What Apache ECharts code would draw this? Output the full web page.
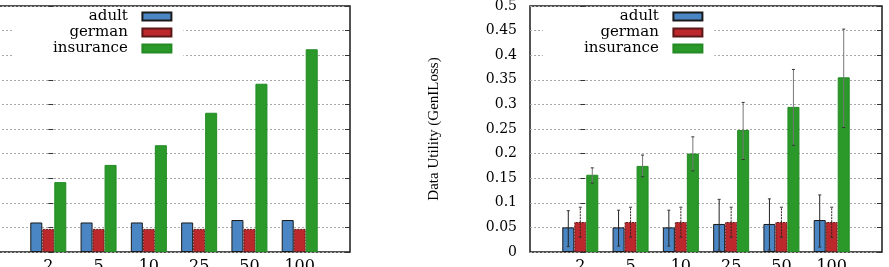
<!DOCTYPE html>
<html>
<head>
<meta charset="utf-8">
<script src="https://cdn.jsdelivr.net/npm/echarts@6/dist/echarts.min.js"></script>
<style>html,body{margin:0;padding:0;background:#fff}</style>
</head>
<body>
<div id="main" style="width:889px;height:267px"></div>
<script>
var ks = ['2', '5', '10', '25', '50', '100'];
var names = ['adult', 'german', 'insurance'];

// left panel
var leftAdult = [0.060, 0.060, 0.060, 0.060, 0.065, 0.065];
var leftGerman = [0.047, 0.047, 0.047, 0.047, 0.047, 0.047];
var leftInsurance = [0.142, 0.177, 0.217, 0.283, 0.342, 0.412];

// right panel: GenILoss with min/max
var rightAdult = [0.050, 0.050, 0.050, 0.057, 0.057, 0.065];
var rightGerman = [0.061, 0.061, 0.061, 0.061, 0.061, 0.061];
var rightInsurance = [0.157, 0.175, 0.200, 0.248, 0.295, 0.355];
var adultErr = [[0.011, 0.084], [0.012, 0.085], [0.012, 0.085], [0.004, 0.107], [0.004, 0.108], [0.010, 0.116]];
var germanErr = [[0.030, 0.091], [0.030, 0.091], [0.030, 0.091], [0.030, 0.091], [0.030, 0.091], [0.030, 0.091]];
var insuranceErr = [[0.140, 0.171], [0.153, 0.197], [0.165, 0.234], [0.188, 0.304], [0.217, 0.371], [0.253, 0.453]];

var colors = ['#4a86c3', '#bd282d', '#2a992a'];
var styles = [
    {color: colors[0], borderColor: '#1a1a1a', borderWidth: 1},
    {color: colors[1], borderColor: '#5a1818', borderWidth: 1, borderType: [2, 1]},
    {color: colors[2], borderColor: '#248a24', borderWidth: 1}
];

function pairs(arr) {
    return arr.map(function (v, i) { return [i, v]; });
}

var myChart = echarts.init(document.getElementById('main'));

var serif = 'DejaVu Serif';

function xAxis(gi) {
    return {
        type: 'value', gridIndex: gi, min: -1, max: 6, interval: 1,
        axisLine: {show: false}, axisTick: {show: false}, splitLine: {show: false},
        axisLabel: {
            margin: 7, fontFamily: serif, fontSize: 16, color: '#000',
            formatter: function (v) { return ks[v] !== undefined ? ks[v] : ''; }
        }
    };
}

function yAxis(gi, pos, labels) {
    return {
        type: 'value', gridIndex: gi, position: pos, min: 0, max: 0.5, interval: 0.05,
        axisLine: {show: false},
        axisTick: {show: true, inside: true, length: 5, lineStyle: {color: '#333'}},
        splitLine: {show: pos === 'left', lineStyle: {color: '#a8a8a8', type: [2, 2], width: 1}},
        axisLabel: {show: labels, margin: 13, fontFamily: serif, fontSize: 14, color: '#000'}
    };
}

function legend(left) {
    return {
        left: left, top: 7, orient: 'vertical', align: 'right',
        backgroundColor: '#fff', padding: [2, 11, 0, 41],
        itemWidth: 29, itemHeight: 8, itemGap: 1,
        icon: 'rect', selectedMode: false,
        formatter: function (n) { return n + '  '; },
        textStyle: {fontFamily: serif, fontSize: 15, color: '#000', lineHeight: 14},
        data: names
    };
}

var series = [];
[leftAdult, leftGerman, leftInsurance].forEach(function (arr, k) {
    series.push({
        name: names[k], type: 'bar', xAxisIndex: 0, yAxisIndex: 0,
        barWidth: 12, barGap: '0%', data: pairs(arr), itemStyle: styles[k]
    });
});
[rightAdult, rightGerman, rightInsurance].forEach(function (arr, k) {
    series.push({
        name: names[k], type: 'bar', xAxisIndex: 1, yAxisIndex: 2,
        barWidth: 12, barGap: '0%', data: pairs(arr), itemStyle: styles[k]
    });
});

var errStyles = [
    {stroke: '#222', lineWidth: 1},
    {stroke: '#3a2020', lineWidth: 1, lineDash: [2, 1]},
    {stroke: '#777', lineWidth: 1}
];
[adultErr, germanErr, insuranceErr].forEach(function (arr, k) {
    series.push({
        type: 'custom', xAxisIndex: 1, yAxisIndex: 2, z: 3, silent: true,
        data: arr.map(function (e, i) { return [i, e[0], e[1]]; }),
        renderItem: function (params, api) {
            var off = (k - 1) * 12;
            var lo = api.coord([api.value(0), api.value(1)]);
            var hi = api.coord([api.value(0), api.value(2)]);
            var x = lo[0] + off;
            var st = errStyles[k];
            var cap = {stroke: '#333', lineWidth: 1};
            return {
                type: 'group', children: [
                    {type: 'line', shape: {x1: x, y1: lo[1], x2: x, y2: hi[1]}, style: st},
                    {type: 'line', shape: {x1: x - 1.5, y1: lo[1], x2: x + 1.5, y2: lo[1]}, style: cap},
                    {type: 'line', shape: {x1: x - 1.5, y1: hi[1], x2: x + 1.5, y2: hi[1]}, style: cap}
                ]
            };
        }
    });
});

var gridBase = {top: 6, width: 352, height: 246, show: true, borderColor: '#1a1a1a', borderWidth: 1.5,
    backgroundColor: 'transparent', containLabel: false, outerBoundsMode: 'none'};

var option = {
    backgroundColor: '#fff',
    animation: false,
    grid: [
        Object.assign({left: -2}, gridBase),
        Object.assign({left: 530}, gridBase)
    ],
    legend: [legend(12), legend(543)],
    xAxis: [xAxis(0), xAxis(1)],
    yAxis: [
        yAxis(0, 'left', false),
        yAxis(0, 'right', false),
        Object.assign(yAxis(1, 'left', true), {
            name: 'Data Utility (GenILoss)', nameLocation: 'middle', nameGap: 88,
            nameTextStyle: {fontFamily: 'Liberation Serif', fontSize: 15, color: '#000'}
        }),
        yAxis(1, 'right', false)
    ],
    series: series
};

myChart.setOption(option);
</script>
</body>
</html>
